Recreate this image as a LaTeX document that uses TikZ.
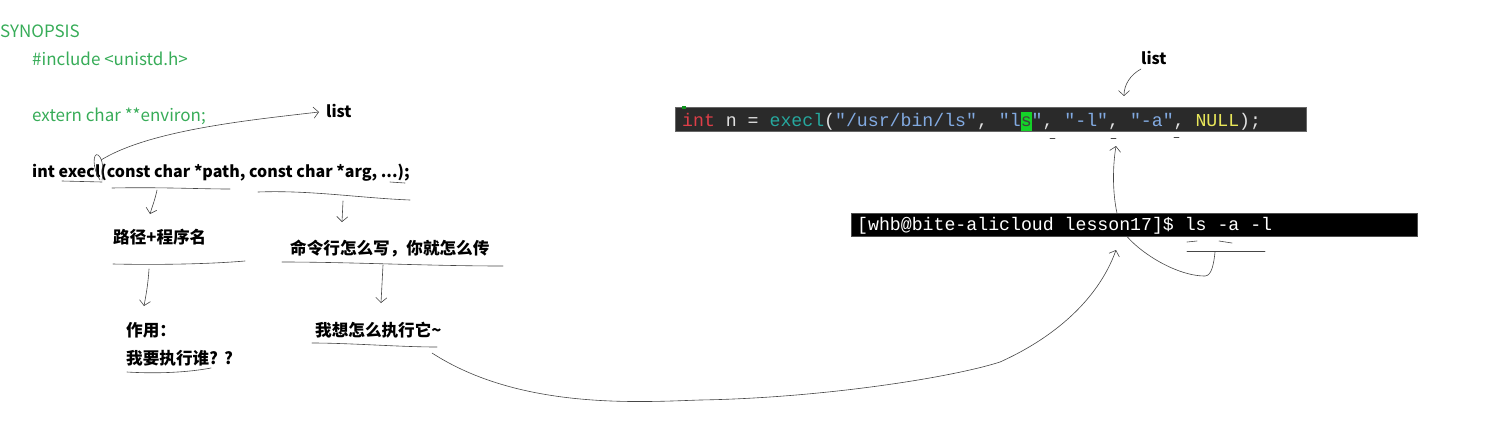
\documentclass[tikz,border=0pt]{standalone}
\usepackage{fontspec}
\setmainfont{Noto Sans CJK SC}
\newfontfamily\monof{Liberation Mono}
\usetikzlibrary{arrows.meta}
\definecolor{synG}{RGB}{55,172,88}
\definecolor{handgray}{RGB}{70,70,70}
\definecolor{codebg}{RGB}{42,42,42}
\definecolor{cRed}{RGB}{222,62,72}
\definecolor{cWhite}{RGB}{225,225,225}
\definecolor{cTeal}{RGB}{38,168,158}
\definecolor{cBlue}{RGB}{130,170,225}
\definecolor{cYel}{RGB}{232,230,90}
\definecolor{hlG}{RGB}{20,210,40}
\tikzset{
  hand/.style={draw=handgray, line width=0.6pt, line cap=round, line join=round},
  tipd/.style={-{Straight Barb[length=5pt,width=11pt]}},
  grn/.style={anchor=base west, inner sep=0pt, text=synG, font=\fontsize{17}{20}\selectfont},
  blk/.style={anchor=base west, inner sep=0pt, text=black, font=\fontsize{16}{19}\selectfont\bfseries},
  cjk/.style={anchor=base west, inner sep=0pt, text=black, font=\fontsize{16.6}{19}\selectfont\bfseries},
  codetxt/.style={anchor=base west, inner sep=0pt, font=\monof\fontsize{18.2}{21}\selectfont},
}
\begin{document}
\begin{tikzpicture}[x=1pt,y=-1pt]
\useasboundingbox (0,0) rectangle (1486,424);

% ---------- left: synopsis ----------
\node[grn] (syn) at (0,37) {SYNOPSIS};
\node[grn] (inc) at (32,65) {\#include <unistd.h>};
\node[grn] (env) at (32,121) {extern char **environ;};
\node[blk] (proto) at (32,177) {int execl(const char *path, const char *arg, ...);};
\node[blk] (listL) at (326,117) {list};

\node[cjk] (path) at (113,243) {路径+程序名};
\node[cjk] (use1) at (126,336) {作用：};
\node[cjk] (use2) at (126,364) {我要执行谁?\hspace{6pt}?};
\node[cjk] (cmd) at (290,254) {命令行怎么写，你就怎么传};
\node[cjk] (how) at (315,336) {我想怎么执行它\textasciitilde};

% loop round the l of execl and curve to "list"
\coordinate (lp) at (101,160);
\coordinate (lA) at (319,112);
\draw[hand] (100,180) .. controls (92,168) and (93,152) .. (98,155) .. controls (103,158) and (104,172) .. (102,180);
\draw[hand, tipd] (lp) .. controls (150,130) and (250,120) .. (lA);

% underlines of the prototype
\draw[hand] (62,181) -- (102,182);
\draw[hand] (112,188) .. controls (160,187) and (200,189) .. (230,189);
\draw[hand] (258,192) .. controls (310,190) and (360,198) .. (410,200);
\draw[hand] (390,182) -- (405,183);

% arrows down
\coordinate (a1s) at (157,190); \coordinate (a1e) at (150,214);
\draw[hand, tipd] (a1s) .. controls (155,200) and (152,207) .. (a1e);
\coordinate (a2s) at (343,201); \coordinate (a2e) at (342,222);
\draw[hand, tipd] (a2s) -- (a2e);

\draw[hand] (113,264) .. controls (160,265) and (210,264) .. (245,261);
\coordinate (a3s) at (149,269); \coordinate (a3e) at (144,306);
\draw[hand, tipd] (a3s) .. controls (148,285) and (146,295) .. (a3e);
\draw[hand] (127,372) .. controls (160,374) and (190,372) .. (211,368);

\draw[hand] (282,262) .. controls (350,262) and (430,266) .. (503,266);
\coordinate (a4s) at (383,265); \coordinate (a4e) at (381,303);
\draw[hand, tipd] (a4s) -- (a4e);
\draw[hand] (312,343) .. controls (350,343) and (400,347) .. (437,347);

% long curve from "how" to the terminal
\coordinate (lcS) at (432,353);
\coordinate (lcE) at (1116,250);
\draw[hand, tipd] (lcS) .. controls (520,410) and (640,402) .. (700,400)
  .. controls (820,398) and (950,378) .. (1000,362)
  .. controls (1060,335) and (1100,295) .. (lcE);

% ---------- right: code line ----------
\node[blk] (listR) at (1141,64) {list};
\coordinate (lrS) at (1141,69);
\coordinate (lrE) at (1124,96);
\draw[hand, tipd] (lrS) .. controls (1130,75) and (1124,85) .. (lrE);

% return curve from "ls -a -l" up to the code (drawn below the terminal)
\coordinate (rcS) at (1215,252);
\coordinate (rcE) at (1116,146);
\draw[hand, tipd] (rcS) .. controls (1214,262) and (1212,276) .. (1205,276)
  .. controls (1175,276) and (1135,250) .. (1122,230)
  .. controls (1112,205) and (1112,170) .. (rcE);

\node[fill=codebg, draw=black!60, line width=0.4pt, minimum width=631pt, minimum height=24pt, anchor=north west, inner sep=0pt] (codebox) at (675,107) {};
\fill[hlG!70!black] (682,106) rectangle (686,109);
\node[codetxt, text=cWhite] (code) at (682,126) {\textcolor{cRed}{int} n = \textcolor{cTeal}{execl}(\textcolor{cBlue}{"/usr/bin/ls"}, \textcolor{cBlue}{"l}{\setlength{\fboxsep}{0pt}\colorbox{hlG}{\rule[-5pt]{0pt}{19pt}\textcolor{black!75}{s}}}\textcolor{cBlue}{"}, \textcolor{cBlue}{"-l"}, \textcolor{cBlue}{"-a"}, \textcolor{cYel}{NULL});};

% ticks under commas
\draw[hand] (1050,138) -- (1055,138);
\draw[hand] (1111,138) -- (1116,138);
\draw[hand] (1174,137) -- (1179,137);

% ---------- terminal ----------
\node[fill=black, draw=black!70, line width=0.4pt, minimum width=566pt, minimum height=23pt, anchor=north west, inner sep=0pt] (term) at (851,213) {};
\node[codetxt, text=white] (termtxt) at (857,230) {[whb@bite-alicloud lesson17]\$ ls -a -l};

\draw[hand] (1187,242) -- (1197,241);
\draw[hand] (1219,241) -- (1232,243);
\draw[hand] (1187,251) -- (1265,251);
\end{tikzpicture}
\end{document}
